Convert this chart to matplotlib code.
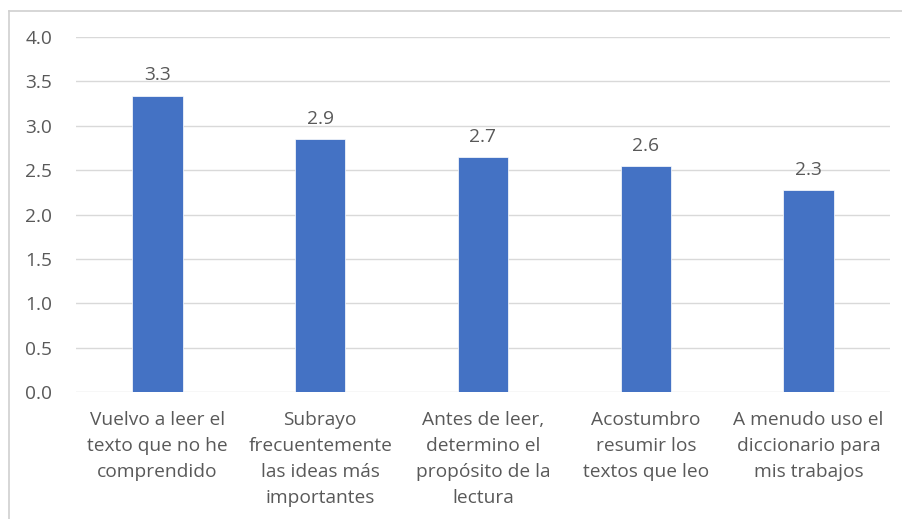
import matplotlib.pyplot as plt
from matplotlib.lines import Line2D

categorias = [
    "Vuelvo a leer el\ntexto que no he\ncomprendido",
    "Subrayo\nfrecuentemente\nlas ideas más\nimportantes",
    "Antes de leer,\ndetermino el\npropósito de la\nlectura",
    "Acostumbro\nresumir los\ntextos que leo",
    "A menudo uso el\ndiccionario para\nmis trabajos",
]
valores = [3.34, 2.85, 2.65, 2.55, 2.28]
etiquetas = ["3.3", "2.9", "2.7", "2.6", "2.3"]
yticks = [0.0, 0.5, 1.0, 1.5, 2.0, 2.5, 3.0, 3.5, 4.0]

plt.rcParams['font.family'] = ['Open Sans', 'DejaVu Sans']
gris = '#595959'

W, H = 902, 519
fig = plt.figure(figsize=(W / 100, H / 100), dpi=100)
ax = fig.add_axes([76 / W, 1 - 392 / H, (890 - 76) / W, (392 - 37) / H])

x = range(len(valores))
bars = ax.bar(x, valores, width=0.31, color='#4472C4', edgecolor='#ffffff', linewidth=0.5, zorder=3)
for b, t in zip(bars, etiquetas):
    ax.annotate(t, (b.get_x() + b.get_width() / 2, b.get_height()),
                xytext=(0, 8), textcoords='offset points',
                ha='center', va='bottom', fontsize=13.8, color=gris)

ax.set_xlim(-0.5, len(valores) - 0.5)
ax.set_ylim(0, 4.0)
ax.set_yticks(yticks)
ax.set_yticklabels([f"{v:.1f}" for v in yticks])
ax.set_xticks(list(x))
ax.set_xticklabels(categorias, linespacing=1.55)
ax.tick_params(axis='both', length=0, colors=gris, labelsize=13.8)
ax.tick_params(axis='y', pad=17)
ax.tick_params(axis='x', pad=14)
ax.grid(axis='y', color='#d9d9d9', linewidth=1, zorder=0)
for s in ax.spines.values():
    s.set_visible(False)

# borde del área del gráfico
fig.add_artist(Line2D([9 / W, 9 / W], [0, 1 - 11 / H], transform=fig.transFigure, color='#d0d0d0', linewidth=1.2))
fig.add_artist(Line2D([9 / W, 1], [1 - 11 / H, 1 - 11 / H], transform=fig.transFigure, color='#d0d0d0', linewidth=1.2))

fig.savefig('out.png', dpi=100)
